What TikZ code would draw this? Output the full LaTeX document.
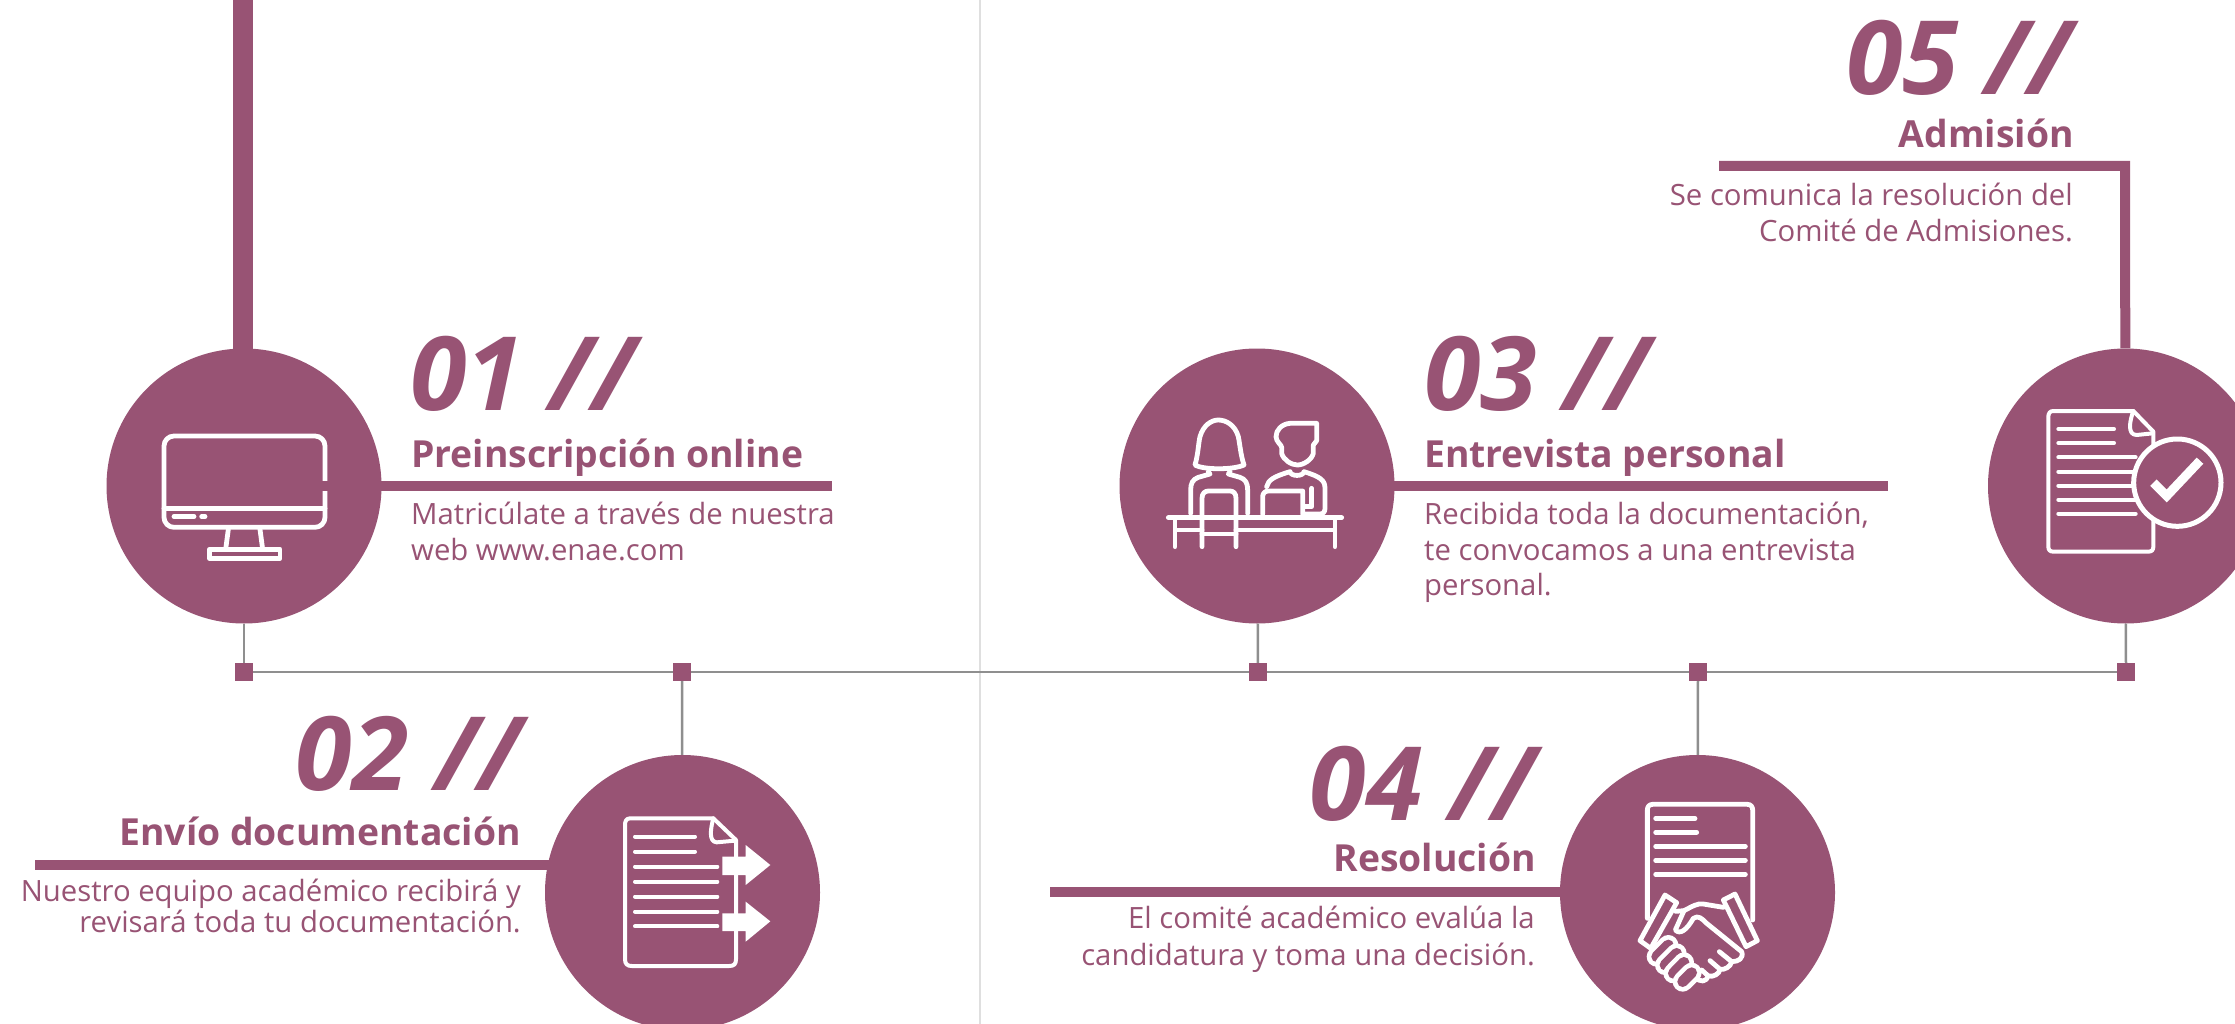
\documentclass[tikz,border=0pt]{standalone}
\usepackage{fontspec}
\setmainfont{Open Sans}
\definecolor{plum}{HTML}{985374}
\definecolor{greyl}{HTML}{8F8F8F}
\newcommand{\bodyfont}[1]{\fontsize{29.3}{#1}\selectfont}
\begin{document}
\begin{tikzpicture}[x=1pt,y=-1pt,
 disc/.style={circle,fill=plum,minimum size=275,inner sep=0,draw=none},
 sq/.style={rectangle,fill=plum,minimum size=18,inner sep=0},
 num/.style={font=\fontsize{102.5}{105}\selectfont\bfseries\itshape,text=plum,inner sep=0},
 ttl/.style={font=\fontsize{37.3}{40}\selectfont\bfseries,text=plum,inner sep=0},
 txt/.style={text=plum,inner sep=0,align=left},
 txr/.style={txt,align=right},
 bar/.style={plum,line width=10},
 thin/.style={greyl,line width=2.5},
 ic/.style={white,line width=4.8,line join=round,line cap=round},
 zm/.style={xscale=1/3,yscale=1/3}]
\useasboundingbox (0,0) rectangle (2235,1024);
\fill[white] (0,0) rectangle (2235,1024);
\draw[gray!25,line width=1.5] (980,0) -- (980,1024);
\coordinate (v1) at (243,0);
\coordinate (v1e) at (243,360);
\coordinate (b1) at (322,486);
\coordinate (h1) at (832,486);
\coordinate (b3) at (1380,486);
\coordinate (h3) at (1888,486);
\coordinate (h2) at (35,865);
\coordinate (b2) at (560,865);
\coordinate (h4) at (1050,892);
\coordinate (b4) at (1570,892);
\coordinate (h5) at (1719,166);
\coordinate (c5) at (2125,166);
\node[sq] (s1) at (244,672) {};
\node[sq] (s2) at (682,672) {};
\node[sq] (s3) at (1258,672) {};
\node[sq] (s4) at (1698,672) {};
\node[sq] (s5) at (2126,672) {};
\draw[thin] (s1) -- (s2) -- (s3) -- (s4) -- (s5);
\node[disc] (d1) at (244,486) {};
\node[disc] (d2) at (682.5,892.5) {};
\node[disc] (d3) at (1257,486) {};
\node[disc] (d4) at (1697.5,892.5) {};
\node[disc] (d5) at (2125.5,486) {};
\draw[thin] (d1) -- (s1);
\draw[thin] (d3) -- (s3);
\draw[thin] (d5) -- (s5);
\draw[thin] (s2) -- (d2);
\draw[thin] (s4) -- (d4);
\draw[plum,line width=20.5] (v1) -- (v1e);
% texts
\node[num,anchor=base west] (n1) at (410,410) {01 //};
\node[ttl,anchor=base west] (t1) at (411,467) {Preinscripción online};
\node[txt,font=\bodyfont{35.6},anchor=north west] (p1) at (411,502) {Matricúlate a través de nuestra\\web www.enae.com};
\node[num,anchor=base east] (n2) at (522,790) {02 //};
\node[ttl,anchor=base east] (t2) at (521,845) {Envío documentación};
\node[txr,font=\bodyfont{27.5},anchor=north east] (p2) at (521,879) {Nuestro equipo académico recibirá y\\revisará toda tu documentación.};
\node[num,anchor=base west] (n3) at (1424,410) {03 //};
\node[ttl,anchor=base west] (t3) at (1424,467) {Entrevista personal};
\node[txt,font=\bodyfont{35.6},anchor=north west] (p3) at (1424,502) {Recibida toda la documentación,\\te convocamos a una entrevista\\personal.};
\node[num,anchor=base east] (n4) at (1536,820) {04 //};
\node[ttl,anchor=base east] (t4) at (1536,871) {Resolución};
\node[txr,font=\bodyfont{37},anchor=north east] (p4) at (1535,906) {El comité académico evalúa la\\candidatura y toma una decisión.};
\node[num,anchor=base east] (n5) at (2072,95) {05 //};
\node[ttl,anchor=base east] (t5) at (2074,148) {Admisión};
\node[txr,font=\bodyfont{35.6},anchor=north east] (p5) at (2073,183) {Se comunica la resolución del\\Comité de Admisiones.};
% icon 1: monitor
\begin{scope}[ic,shift={(80,320)},zm]
\draw[rounded corners=10] (252,348) rectangle (735,622);
\draw (252,565) -- (735,565);
\draw (282,590) -- (342,590) (365,590) -- (375,590);
\draw (445,628) -- (437,688) (540,628) -- (548,688);
\draw (388,688) rectangle (600,715);
\end{scope}
% connector bars over the icon edge
\draw[bar] (b1) -- (h1);
\draw[bar] (b3) -- (h3);
\draw[bar] (b2) -- (h2);
\draw[bar] (b4) -- (h4);
\draw[bar] (h5) -- (c5) -- (d5);
% icon 2: document with arrows
\begin{scope}[ic,shift={(540,750)},zm,line width=4]
\draw (520,205) -- (270,205) .. controls (258,205) and (255,215) .. (255,225) -- (255,628) .. controls (255,642) and (262,648) .. (275,648) -- (568,648) .. controls (582,648) and (588,642) .. (588,628) -- (588,270) -- cycle;
\draw (520,205) .. controls (512,235) and (505,275) .. (530,277) -- (585,272);
\foreach \y/\e in {260/465,305/465,350/532,395/532,440/532,485/532,529/532}{\draw (285,\y) -- (\e,\y);}
\fill[white,draw=none] (547,320) -- (617,320) -- (617,285) -- (691,345) -- (617,405) -- (617,375) -- (547,375) -- cycle;
\fill[white,draw=none] (547,490) -- (617,490) -- (617,455) -- (691,514) -- (617,575) -- (617,543) -- (547,543) -- cycle;
\end{scope}
% icon 3: two people at a table
\begin{scope}[ic,shift={(1100,330)},zm]
\draw (285,405) .. controls (295,370) and (295,340) .. (300,320) .. controls (310,285) and (335,270) .. (355,270) .. controls (378,270) and (405,285) .. (415,320) .. controls (420,345) and (422,375) .. (432,405) .. controls (400,420) and (310,420) .. (285,405) -- cycle;
\draw (325,425) -- (330,432) -- (295,442) .. controls (278,448) and (272,460) .. (272,480) -- (272,550);
\draw (390,425) -- (385,432) -- (420,442) .. controls (437,448) and (443,460) .. (443,480) -- (443,550);
\draw (306,650) -- (306,505) .. controls (306,490) and (315,483) .. (325,483) -- (390,483) .. controls (400,483) and (408,490) .. (408,505) -- (408,650);
\draw (306,612) -- (408,612);
\draw (205,563) -- (725,563);
\draw (230,600) -- (306,600) (408,600) -- (700,600);
\draw (225,565) -- (225,650) (705,565) -- (705,650);
\draw (650,280) -- (570,280) .. controls (545,282) and (528,300) .. (528,320) .. controls (528,335) and (545,345) .. (545,352) -- (545,370) .. controls (550,390) and (575,405) .. (592,405) .. controls (610,405) and (635,390) .. (640,370) -- (640,345) -- (650,332) -- cycle;
\draw (500,470) .. controls (505,450) and (520,440) .. (570,425) .. controls (572,440) and (610,440) .. (612,425) .. controls (660,440) and (675,450) .. (675,475) -- (675,535) .. controls (675,545) and (670,552) .. (660,552) -- (612,552);
\draw (488,552) -- (488,500) .. controls (488,490) and (495,483) .. (505,483) -- (608,483) -- (608,552);
\draw (635,475) -- (635,530) -- (612,530);
\end{scope}
% icon 4: document and handshake
\begin{scope}[ic,shift={(1560,750)},zm]
\draw (262,505) -- (262,180) .. controls (262,170) and (268,163) .. (278,163) -- (562,163) .. controls (572,163) and (578,170) .. (578,180) -- (578,510);
\foreach \y/\e in {205/405,247/410,289/556,331/556,373/556}{\draw (287,\y) -- (\e,\y);}
\draw (315,435) -- (350,458) -- (272,595) -- (240,572) -- cycle;
\draw (490,450) -- (525,432) -- (592,572) -- (558,590) -- cycle;
\draw (347,484) -- (372,482) .. controls (395,470) and (415,458) .. (430,462) -- (490,472);
\draw (372,482) -- (346,540) .. controls (360,555) and (380,540) .. (400,505) .. controls (415,495) and (425,505) .. (440,520) -- (545,605) .. controls (552,625) and (535,635) .. (515,635) .. controls (512,650) and (495,660) .. (480,658) .. controls (478,672) and (460,682) .. (445,678) .. controls (440,695) and (420,700) .. (405,680);
\draw (515,635) -- (478,605) (480,658) -- (450,632) (445,678) -- (425,660);
\foreach \a/\b/\c/\d in {290/620/325/585,315/645/350/610,340/670/372/637,368/695/395/668}{
  \draw[line width=20,line cap=round] (\a,\b) -- (\c,\d);
  \draw[plum,line width=10.8,line cap=round] (\a,\b) -- (\c,\d);}
\end{scope}
% icon 5: document with check mark
\begin{scope}[ic,shift={(1970,340)},zm,line width=4]
\draw (490,213) -- (250,213) .. controls (240,213) and (235,220) .. (235,230) -- (235,620) .. controls (235,630) and (240,635) .. (250,635) -- (535,635) .. controls (545,635) and (550,630) .. (550,620) -- (550,275) -- cycle;
\draw (490,213) .. controls (480,240) and (470,285) .. (500,285) -- (548,280);
\foreach \y/\e in {267/432,309/432,352/497,395/497,437/497,479/497,521/497}{\draw (265,\y) -- (\e,\y);}
\draw[line width=5,fill=plum] (622,428) circle[radius=131];
\draw[line width=9,line cap=butt,line join=miter] (550,428) -- (590,468) -- (690,362);
\end{scope}
\end{tikzpicture}
\end{document}
